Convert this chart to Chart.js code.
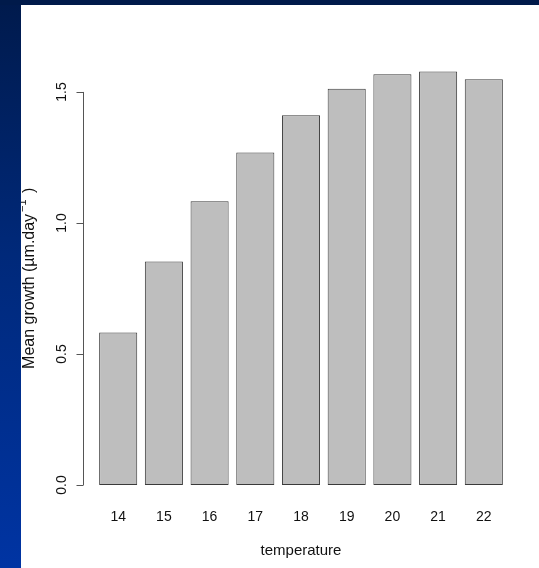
<!DOCTYPE html>
<html>
<head>
<meta charset="utf-8">
<script src="https://cdn.jsdelivr.net/npm/chart.js@4"></script>
<style>
    html, body { margin: 0; padding: 0; }
    body {
        width: 539px; height: 568px; overflow: hidden; position: relative;
        background: linear-gradient(to bottom, #001a4c 0%, #00297a 45%, #0034a3 100%);
    }
    #topband { position: absolute; left: 0; top: 0; width: 539px; height: 5px; background: #001a4a; }
    #frame { position: absolute; left: 21px; top: 5px; width: 518px; height: 563px; background: #ffffff; }
</style>
</head>
<body>
<div id="topband"></div>
<div id="frame"><canvas id="grap1" width="518" height="563"></canvas></div>
<script>
// data
var temperature = ["14", "15", "16", "17", "18", "19", "20", "21", "22"];
var growth = [0.582, 0.853, 1.083, 1.269, 1.411, 1.512, 1.568, 1.578, 1.548];
var yTicks = [0, 0.5, 1.0, 1.5];
var yTickLabels = ["0.0", "0.5", "1.0", "1.5"];

var xTitle = "temperature";
var yTitle = "Mean growth (\u00b5m.day";

// R style y axis: line only from first to last tick, rotated labels, and the title
var rAxis = {
    id: 'rAxis',
    afterDraw: function (chart) {
        var ctx = chart.ctx;
        var y = chart.scales.y;
        var area = chart.chartArea;
        var x0 = area.left + 0.5;
        ctx.save();
        ctx.strokeStyle = '#555';
        ctx.lineWidth = 1;
        ctx.beginPath();
        ctx.moveTo(x0, y.getPixelForValue(yTicks[0]));
        ctx.lineTo(x0, y.getPixelForValue(yTicks[yTicks.length - 1]));
        yTicks.forEach(function (v) {
            var py = Math.round(y.getPixelForValue(v)) + 0.5;
            ctx.moveTo(x0 - 7, py);
            ctx.lineTo(x0, py);
        });
        ctx.stroke();

        ctx.fillStyle = '#111';
        ctx.font = '14px "Liberation Sans"';
        ctx.textAlign = 'center';
        ctx.textBaseline = 'middle';
        yTicks.forEach(function (v, i) {
            ctx.save();
            ctx.translate(area.left - 21, y.getPixelForValue(v));
            ctx.rotate(-Math.PI / 2);
            ctx.fillText(yTickLabels[i], 0, 0);
            ctx.restore();
        });

        // y title with superscript -1
        ctx.save();
        ctx.translate(13, (area.top + area.bottom) / 2);
        ctx.rotate(-Math.PI / 2);
        ctx.textAlign = 'left';
        ctx.textBaseline = 'alphabetic';
        ctx.font = '16px "Liberation Sans"';
        var w1 = ctx.measureText(yTitle).width;
        ctx.font = '11px "Liberation Sans"';
        var w2 = ctx.measureText("\u22121").width + 4;
        ctx.font = '16px "Liberation Sans"';
        var w3 = ctx.measureText(" )").width;
        var sx = -(w1 + w2 + w3) / 2;
        ctx.fillText(yTitle, sx, 0);
        ctx.font = '11px "Liberation Sans"';
        ctx.fillText("\u22121", sx + w1 + 2, -8);
        ctx.font = '16px "Liberation Sans"';
        ctx.fillText(" )", sx + w1 + w2, 0);
        ctx.restore();

        // x title
        ctx.font = '15px "Liberation Sans"';
        ctx.textAlign = 'center';
        ctx.textBaseline = 'alphabetic';
        ctx.fillText(xTitle, (area.left + area.right) / 2, 550);
        ctx.restore();
    }
};

var ctx = document.getElementById('grap1').getContext('2d');
var chart = new Chart(ctx, {
    type: 'bar',
    data: {
        datasets: [
            {
                label: "Mean growth",
                data: growth.map(function (v, i) { return { x: i, y: v }; }),
                backgroundColor: '#bebebe',
                borderColor: '#3a3a3a',
                borderWidth: 1,
                borderSkipped: false,
                barPercentage: 1 / 1.2,
                categoryPercentage: 1
            }
        ]
    },
    options: {
        responsive: false,
        animation: false,
        devicePixelRatio: 1,
        layout: { padding: { top: 50, right: 20, left: 0, bottom: 0 } },
        plugins: {
            legend: { display: false },
            tooltip: { enabled: false }
        },
        scales: {
            x: {
                type: 'linear',
                offset: false,
                min: -0.77,
                max: 8.77,
                grid: { display: false, drawTicks: false, offset: false },
                border: { display: false },
                afterFit: function (s) { s.height = 66.5; },
                afterBuildTicks: function (s) {
                    s.ticks = temperature.map(function (t, i) { return { value: i }; });
                },
                ticks: {
                    autoSkip: false,
                    maxRotation: 0,
                    padding: 7,
                    color: '#111',
                    font: { family: 'Liberation Sans', size: 14 },
                    callback: function (v) { return temperature[v]; }
                }
            },
            y: {
                min: -0.063,
                max: 1.641,
                grid: { display: false },
                border: { display: false },
                ticks: { display: false },
                afterBuildTicks: function (s) {
                    s.ticks = yTicks.map(function (v) { return { value: v }; });
                },
                afterFit: function (s) { s.width = 62; }
            }
        }
    },
    plugins: [rAxis]
});
</script>
</body>
</html>
